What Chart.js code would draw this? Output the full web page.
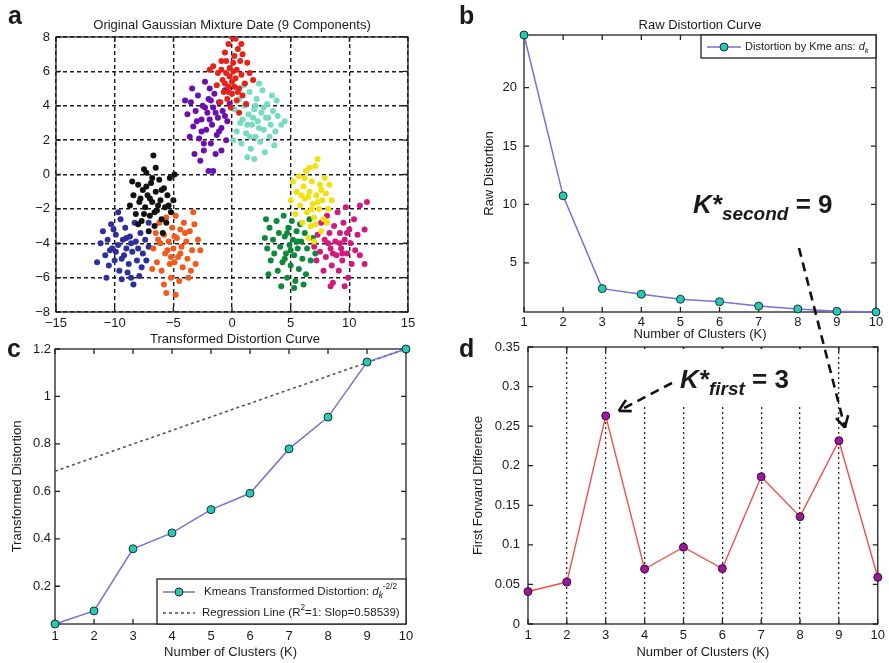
<!DOCTYPE html>
<html><head><meta charset="utf-8">
<script src="https://cdn.jsdelivr.net/npm/chart.js@4.4.0/dist/chart.umd.min.js"></script>
<style>
html,body{margin:0;padding:0;background:#fff;overflow:hidden}
body{width:889px;height:663px;position:relative;font-family:"Liberation Sans",Arial,sans-serif}
canvas{position:absolute}
#ov{position:absolute;left:0;top:0;pointer-events:none}
#ov text{font-family:"Liberation Sans",Arial,sans-serif;fill:#1a1a1a}
</style></head><body>
<canvas id="cA" width="440" height="340" style="left:0;top:0"></canvas>
<canvas id="cB" width="449" height="345" style="left:440px;top:0"></canvas>
<canvas id="cC" width="440" height="333" style="left:0;top:330px"></canvas>
<canvas id="cD" width="449" height="333" style="left:440px;top:330px"></canvas>
<svg id="ov" width="889" height="663">
  <rect x="620" y="349" width="202" height="56" fill="#fff"/>
  <g id="arrows"></g>
  <text x="8" y="24" font-size="25" font-weight="bold">a</text>
  <text x="459" y="24" font-size="25" font-weight="bold">b</text>
  <text x="7" y="357" font-size="25" font-weight="bold">c</text>
  <text x="459" y="357" font-size="25" font-weight="bold">d</text>
  <text x="232" y="29" font-size="13" text-anchor="middle">Original Gaussian Mixture Date (9 Components)</text>
  <text x="700" y="29" font-size="13" text-anchor="middle">Raw Distortion Curve</text>
  <text x="235" y="343" font-size="13" text-anchor="middle">Transformed Distortion Curve</text>
  <text x="693" y="213" font-size="26" font-weight="bold" font-style="italic">K*<tspan font-size="19" dy="7">second</tspan><tspan font-style="normal" dy="-7"> = 9</tspan></text>
  <text x="680" y="388" font-size="26" font-weight="bold" font-style="italic">K*<tspan font-size="19" dy="7">first</tspan><tspan font-style="normal" dy="-7"> = 3</tspan></text>
</svg>
<script>
// ---- panel a: points, one list per component ----
const redPts = [[-1.6,6.3],[-1.2,5.9],[-0.9,6.6],[-0.6,7.1],[-0.3,7.6],[0,8],[0.3,7.9],[0.5,7.3],[0.9,7],[1.3,6.5],[-1.3,5.2],[-0.8,5.5],[-0.5,5.9],[-0.2,6.2],[0.1,6.5],[0.4,6.1],[0.8,5.8],[1.1,5.3],[-0.7,4.8],[-0.3,5.1],[0,5.4],[0.3,5.6],[0.6,5],[0.9,4.6],[-0.4,4.4],[0,4.7],[0.4,4.3],[-0.1,3.9],[0.6,3.6],[-1,4.2],[0.2,6.9],[-0.5,6.6],[1.5,5.9],[-1.9,6.1],[0.7,6.6],[-0.2,5.7],[0.2,5.1],[-0.6,5.3],[1.2,4.1],[-0.9,6.1],[0.5,4.8],[0.1,6],[-0.3,4.8],[1.8,5.5],[0.8,7.6]];
const purplePts = [[-3.8,3.5],[-3.5,4.2],[-3.3,2.8],[-3.1,3.7],[-2.9,4.6],[-2.8,2.1],[-2.6,3.2],[-2.5,4],[-2.4,1.4],[-2.2,2.6],[-2.1,3.6],[-2,4.4],[-1.9,5],[-1.8,1.8],[-1.7,2.9],[-1.6,3.9],[-1.5,4.7],[-1.3,2.3],[-1.2,3.3],[-1.1,4.2],[-0.9,2.7],[-0.8,3.7],[-0.6,4.9],[-0.5,2],[-0.4,3.1],[-0.2,4.1],[-2.7,0.8],[-2,0.2],[-1.6,0.2],[-3.2,1.2],[-3.6,2.2],[-4,4.3],[-2.3,5.4],[-1.4,1.2],[-0.9,1.4],[-2.6,2.5],[-1.9,3.2],[-1.4,3.6],[-2.3,3.9],[-1.1,2.5],[-3,3.1],[-0.6,3.4],[-1.8,4.3],[-2.4,1.8],[-3.4,5]];
const tealPts = [[0.2,3.8],[0.4,2.5],[0.6,4.4],[0.8,1.8],[0.9,3.2],[1.1,4],[1.2,2.4],[1.4,3.5],[1.5,4.8],[1.6,1.5],[1.7,2.9],[1.9,3.8],[2,2.2],[2.1,4.4],[2.2,3.1],[2.4,1.9],[2.5,3.6],[2.6,4.9],[2.7,2.6],[2.9,3.3],[3,4.1],[3.2,2.2],[3.3,2.9],[3.5,3.7],[3.7,2.5],[3.9,3.4],[4.2,2.9],[4.5,3.1],[1.9,0.9],[1.3,1],[2.8,1.3],[3.4,4.6],[0.1,2],[1,5.2],[2.3,5.3],[3.8,4.3],[1.8,3.3],[2.3,2.7],[1.3,2.9],[2.7,3.9],[3.6,1.7],[0.7,3],[2,4],[1.5,2.2],[3.1,3.3]];
const blackPts = [[-8.7,-1.8],[-8.4,-1.2],[-8.2,-2.3],[-8,-0.6],[-7.9,-1.6],[-7.7,-2.7],[-7.6,-0.9],[-7.4,-1.9],[-7.3,0.1],[-7.2,-1.2],[-7,-2.4],[-6.9,-0.5],[-6.8,-1.6],[-6.6,-3],[-6.5,-1],[-6.4,-2.1],[-6.2,-0.3],[-6.1,-1.5],[-6,-2.6],[-5.8,-0.8],[-5.7,-1.9],[-5.5,-1.2],[-5.3,-0.2],[-5.2,-2.2],[-5,-1.5],[-4.9,0],[-6.7,1.1],[-7.5,0.3],[-6.5,0.4],[-8,-2.9],[-7.1,-3.3],[-5.9,-3.4],[-6.3,-1.8],[-7,-1.4],[-6.6,-2.2],[-7.8,-1.4],[-5.6,-2.8],[-8.5,-0.4],[-7.5,-2.3],[-6,-0.9],[-6.8,-0.2],[-5.4,-1.8],[-7.3,-0.7]];
const bluePts = [[-11.2,-4],[-11,-3.3],[-10.8,-4.7],[-10.6,-3.8],[-10.5,-5.3],[-10.3,-2.9],[-10.2,-4.3],[-10,-5],[-9.9,-3.5],[-9.7,-4.1],[-9.6,-5.6],[-9.5,-2.6],[-9.3,-3.8],[-9.2,-4.7],[-9.1,-3.1],[-9,-4.3],[-8.8,-5.2],[-8.7,-3.6],[-8.6,-6],[-8.5,-4.5],[-8.3,-2.8],[-8.2,-3.9],[-8.1,-5],[-8,-4.3],[-7.8,-3.4],[-7.7,-5.4],[-7.6,-4.6],[-7.4,-3.8],[-7.3,-5],[-7.1,-4.2],[-11.5,-5.1],[-9.7,-2.2],[-8.4,-6.4],[-10.7,-6],[-9.4,-6.1],[-7.1,-2.8],[-9.9,-4.5],[-9,-3.7],[-8.6,-4],[-9.4,-4.9],[-10.4,-4.4],[-8.9,-5.7],[-7.9,-5.9],[-10.1,-3.2]];
const orangePts = [[-6.7,-4.3],[-6.5,-3.4],[-6.4,-5.1],[-6.2,-2.8],[-6.1,-4],[-6,-5.6],[-5.8,-3.5],[-5.7,-4.6],[-5.6,-2.5],[-5.4,-3.9],[-5.3,-5.2],[-5.2,-6],[-5.1,-3.1],[-5,-4.3],[-4.9,-5.1],[-4.8,-2.4],[-4.7,-3.7],[-4.6,-4.8],[-4.5,-6.2],[-4.4,-3.2],[-4.3,-4.2],[-4.2,-5.4],[-4.1,-2.8],[-3.9,-3.9],[-3.8,-4.9],[-3.7,-6],[-3.6,-3.3],[-3.4,-4.4],[-3.2,-2.9],[-3.1,-5.2],[-2.9,-3.8],[-2.7,-4.4],[-3.3,-2.2],[-5.6,-6.9],[-4.8,-7],[-5.8,-6.4],[-6.8,-5.5],[-5.5,-4.4],[-4.9,-3.6],[-4.4,-4.6],[-5.2,-4.8],[-4,-3.4],[-6.3,-3.8],[-3.5,-5.6]];
const yellowPts = [[5,-1.5],[5.2,-0.4],[5.4,-2.3],[5.5,-1],[5.7,-0.1],[5.8,-1.8],[6,-2.8],[6.1,-0.7],[6.2,-1.4],[6.3,0.2],[6.4,-2.2],[6.6,-1],[6.7,-3],[6.8,-0.4],[6.9,-1.7],[7,-2.5],[7.1,0.5],[7.2,-1.2],[7.3,0.9],[7.4,-2],[7.5,-0.6],[7.6,-3.3],[7.7,-1.5],[7.8,-2.6],[7.9,-0.2],[8,-1.1],[8.2,-2],[8.3,-0.6],[8.5,-1.5],[6.5,-3.7],[7,-3.9],[6.2,-0.2],[6.8,-2],[7.3,-1.6],[6.5,-1.3],[7.6,-0.9],[5.9,-1.2],[7.1,-2.9],[8.1,-2.8],[6.6,0.4]];
const greenPts = [[2.8,-3.7],[3,-4.3],[3.2,-3.1],[3.3,-5],[3.5,-3.8],[3.6,-4.6],[3.8,-2.7],[3.9,-5.6],[4,-3.4],[4.1,-4.2],[4.3,-5.1],[4.4,-2.4],[4.5,-3.6],[4.6,-4.6],[4.7,-6],[4.8,-3.1],[4.9,-4.1],[5,-5.3],[5.1,-2.7],[5.2,-3.8],[5.3,-4.7],[5.4,-6.2],[5.5,-3.3],[5.6,-4.3],[5.7,-5.5],[5.8,-2.9],[5.9,-3.9],[6,-4.9],[6.2,-3.4],[6.3,-5.8],[6.4,-4.3],[6.6,-2.6],[6.7,-5],[6.9,-3.7],[7.1,-4.6],[4.2,-6.5],[5.3,-6.6],[3.1,-5.8],[5,-4.4],[4.5,-4.9],[5.6,-3.9],[4.7,-3.4],[6.1,-6.4],[2.9,-2.6]];
const magentaPts = [[7,-4.2],[7.2,-5],[7.3,-3.5],[7.5,-4.5],[7.6,-2.8],[7.8,-5.6],[7.9,-3.8],[8,-4.8],[8.1,-2.4],[8.3,-3.4],[8.4,-4.3],[8.5,-5.3],[8.6,-6.3],[8.7,-3],[8.8,-3.9],[8.9,-4.7],[9,-2.2],[9.1,-5.6],[9.2,-3.4],[9.3,-4.3],[9.4,-5],[9.5,-2.8],[9.6,-3.8],[9.8,-4.6],[9.9,-6],[10,-3.2],[10.1,-4],[10.2,-5.2],[10.4,-2.6],[10.5,-4.4],[10.7,-3.5],[10.9,-4.7],[11.3,-3.2],[11.5,-1.6],[10.9,-1.8],[9.7,-1.9],[8.4,-6.5],[9.6,-6.5],[11.3,-5.2],[9.2,-4],[8.6,-4.6],[9.8,-3.4],[8.2,-4],[9.4,-4.6]];
const clusterLists = [redPts, tealPts, purplePts, blackPts, orangePts, bluePts, yellowPts, magentaPts, greenPts];
const clusterColors = ['#e5231b','#76dcc0','#6b0fb0','#111111','#f25a1c','#2f2f9c','#f3e010','#d01a7e','#0b8a3b'];

// ---- panels b, c, d ----
const kValues = [1,2,3,4,5,6,7,8,9,10];
const rawDistortion = [24.5,10.74,2.8,2.32,1.89,1.68,1.31,1.06,0.86,0.8];
const transformedDistortion = [0.041,0.096,0.358,0.425,0.523,0.592,0.779,0.913,1.145,1.2];
const regressionK = [1,10];
const regressionVals = [0.685,1.2];
const firstDiff = [0.041,0.053,0.263,0.0695,0.097,0.07,0.186,0.1356,0.2316,0.059];

const ticksAX = [-15,-10,-5,0,5,10,15];
const ticksAY = [-8,-6,-4,-2,0,2,4,6,8];
const ticksB = [5,10,15,20];
const ticksC = [0.2,0.4,0.6,0.8,1,1.2];
const ticksD = [0,0.05,0.1,0.15,0.2,0.25,0.3,0.35];

const FONT = '"Liberation Sans", Arial, sans-serif';
const INK = '#1a1a1a';
Chart.defaults.font.family = FONT;
Chart.defaults.color = INK;

const pairs = (xs, ys) => xs.map((x,i)=>({x, y:ys[i]}));
const fmtNeg = v => v<0 ? '\u2212'+Math.abs(v) : String(v);
const fmtPlain = v => String(v);
const setTicks = list => s => { s.ticks = list.map(v=>({value:v})); };

// matlab style box with inward ticks on all four sides
const framePlugin = {
  id:'frame',
  beforeDatasetsDraw(chart){
    const {ctx, chartArea:a, scales:{x,y}} = chart;
    ctx.save();
    ctx.strokeStyle='#222'; ctx.lineWidth=1.3; ctx.setLineDash([]);
    ctx.beginPath();
    x.ticks.forEach(t=>{ const p=x.getPixelForValue(t.value);
      ctx.moveTo(p,a.bottom); ctx.lineTo(p,a.bottom-5); ctx.moveTo(p,a.top); ctx.lineTo(p,a.top+5); });
    y.ticks.forEach(t=>{ const p=y.getPixelForValue(t.value);
      ctx.moveTo(a.left,p); ctx.lineTo(a.left+5,p); ctx.moveTo(a.right,p); ctx.lineTo(a.right-5,p); });
    ctx.stroke();
    ctx.strokeRect(a.left, a.top, a.right-a.left, a.bottom-a.top);
    ctx.restore();
  }
};

// legend box drawn inside the axes, like matlab
const boxLegend = {
  id:'boxLegend',
  afterDatasetsDraw(chart, args, o){
    if(!o || !o.rows) return;
    const {ctx, chartArea:a} = chart;
    const x0 = a.right - o.width, y0 = o.at==='top' ? a.top : a.bottom - o.height;
    ctx.save();
    ctx.fillStyle='#fff'; ctx.fillRect(x0,y0,o.width,o.height);
    ctx.strokeStyle='#222'; ctx.lineWidth=1.3; ctx.strokeRect(x0,y0,o.width,o.height);
    o.rows.forEach((r,i)=>{
      const ds = chart.data.datasets[r.dataset];
      const cy = y0 + o.rowY[i];
      ctx.strokeStyle = ds.borderColor; ctx.lineWidth = ds.borderWidth; ctx.setLineDash(ds.borderDash||[]);
      ctx.beginPath(); ctx.moveTo(x0+o.lineX[0],cy); ctx.lineTo(x0+o.lineX[1],cy); ctx.stroke();
      ctx.setLineDash([]);
      if(ds.pointRadius>0){
        ctx.beginPath(); ctx.arc(x0+(o.lineX[0]+o.lineX[1])/2, cy, ds.pointRadius, 0, Math.PI*2);
        ctx.fillStyle=ds.pointBackgroundColor; ctx.fill();
        ctx.strokeStyle=ds.pointBorderColor; ctx.lineWidth=ds.pointBorderWidth; ctx.stroke();
      }
      let tx = x0 + o.textX[i];
      ctx.fillStyle=INK; ctx.textBaseline='middle';
      r.parts.forEach(p=>{
        const sz = (p.sub||p.sup) ? o.size*0.72 : o.size;
        ctx.font = (p.italic?'italic ':'') + sz + 'px ' + FONT;
        ctx.fillText(p.t, tx, cy + (p.sub?4:p.sup?-5:0));
        tx += ctx.measureText(p.t).width;
      });
    });
    ctx.restore();
  }
};

const tickFont = {size:13};
const noBorder = {display:false};
const noGrid = {display:false, drawTicks:false};

// ---- a ----
const chartA = new Chart(document.getElementById('cA'), {
  type:'scatter',
  data:{ datasets: clusterLists.map((pts,i)=>({
    data: pts.map(p=>({x:p[0], y:p[1]})),
    backgroundColor: clusterColors[i], borderWidth:0, pointRadius:3, pointHoverRadius:3
  })) },
  options:{
    responsive:false, animation:false, events:[],
    layout:{padding:{left:8,right:32,top:37,bottom:4}},
    plugins:{legend:{display:false}, tooltip:{enabled:false}},
    scales:{
      x:{type:'linear', min:-15, max:15, afterBuildTicks:setTicks(ticksAX), afterFit:s=>{s.height=24;},
         grid:{color:'#1a1a1a', lineWidth:1.4, drawTicks:false}, border:{display:false, dash:[4,3]},
         ticks:{padding:4, font:tickFont, color:INK, callback:fmtNeg, maxRotation:0}},
      y:{min:-8, max:8, afterBuildTicks:setTicks(ticksAY), afterFit:s=>{s.width=48;},
         grid:{color:'#1a1a1a', lineWidth:1.4, drawTicks:false}, border:{display:false, dash:[4,3]},
         ticks:{padding:6, font:tickFont, color:INK, callback:fmtNeg}}
    }
  },
  plugins:[framePlugin]
});

const blueLine = '#7a6ed8', tealMark = '#2cc7b3', markEdge = '#0f3434';
const kTicks = {padding:3, font:tickFont, color:INK, stepSize:1, maxRotation:0, callback:fmtPlain};
const xTitle = pb => ({display:true, text:'Number of Clusters (K)', font:{size:13}, color:INK, padding:{top:0,bottom:pb}});
const yTitle = (txt, pt) => ({display:true, text:txt, font:{size:13}, color:INK, padding:{top:pt,bottom:0}});

// ---- b ----
const chartB = new Chart(document.getElementById('cB'), {
  type:'scatter',
  data:{ datasets:[{
    data: pairs(kValues, rawDistortion), showLine:true, clip:false,
    borderColor:blueLine, borderWidth:1.5, pointRadius:4, pointBackgroundColor:tealMark,
    pointBorderColor:markEdge, pointBorderWidth:1
  }]},
  options:{
    responsive:false, animation:false, events:[],
    layout:{padding:{left:0,right:13,top:35,bottom:0}},
    plugins:{legend:{display:false}, tooltip:{enabled:false},
      boxLegend:{at:'top', width:175, height:23, size:11, rowY:[12], lineX:[6,40], textX:[44],
        rows:[{dataset:0, parts:[{t:'Distortion by Kme ans: '},{t:'d',italic:true},{t:'k',italic:true,sub:true}]}]}},
    scales:{
      x:{type:'linear', min:1, max:10, afterFit:s=>{s.height=33;}, grid:noGrid, border:noBorder,
         ticks:{...kTicks, padding:3}, title:xTitle(3)},
      y:{min:0.8, max:24.5, afterBuildTicks:setTicks(ticksB), afterFit:s=>{s.width=84;}, grid:noGrid, border:noBorder,
         ticks:{padding:7, font:tickFont, color:INK, callback:fmtPlain}, title:yTitle('Raw Distortion', 42)}
    }
  },
  plugins:[framePlugin, boxLegend]
});

// ---- c ----
const chartC = new Chart(document.getElementById('cC'), {
  type:'scatter',
  data:{ datasets:[{
    data: pairs(kValues, transformedDistortion), showLine:true, clip:false,
    borderColor:blueLine, borderWidth:1.5, pointRadius:4, pointBackgroundColor:tealMark,
    pointBorderColor:markEdge, pointBorderWidth:1
  },{
    data: pairs(regressionK, regressionVals), showLine:true, clip:false,
    borderColor:'#555', borderWidth:1.6, borderDash:[3,3], pointRadius:0
  }]},
  options:{
    responsive:false, animation:false, events:[],
    layout:{padding:{left:0,right:34,top:19,bottom:0}},
    plugins:{legend:{display:false}, tooltip:{enabled:false},
      boxLegend:{at:'bottom', width:249, height:45, size:11.5, rowY:[13,34], lineX:[6,38], textX:[47,45],
        rows:[
          {dataset:0, parts:[{t:'Kmeans Transformed Distortion: '},{t:'d',italic:true},{t:'k',italic:true,sub:true},{t:'-2/2',sup:true}]},
          {dataset:1, parts:[{t:'Regression Line (R'},{t:'2',sup:true},{t:'=1: Slop=0.58539)'}]}
        ]}},
    scales:{
      x:{type:'linear', min:1, max:10, afterFit:s=>{s.height=39;}, grid:noGrid, border:noBorder,
         ticks:{...kTicks, padding:5}, title:xTitle(3)},
      y:{min:0.041, max:1.2, afterBuildTicks:setTicks(ticksC), afterFit:s=>{s.width=55;}, grid:noGrid, border:noBorder,
         ticks:{padding:4, font:tickFont, color:INK, callback:fmtPlain}, title:yTitle('Transformed Distortion', 10)}
    }
  },
  plugins:[framePlugin, boxLegend]
});

// ---- d ----
const chartD = new Chart(document.getElementById('cD'), {
  type:'scatter',
  data:{ datasets:[{
    data: pairs(kValues, firstDiff), showLine:true, clip:false,
    borderColor:'#f0504a', borderWidth:1.4, pointRadius:4, pointBackgroundColor:'#9a1a9c',
    pointBorderColor:'#3a0a3a', pointBorderWidth:1
  }]},
  options:{
    responsive:false, animation:false, events:[],
    layout:{padding:{left:0,right:11,top:17,bottom:0}},
    plugins:{legend:{display:false}, tooltip:{enabled:false}},
    scales:{
      x:{type:'linear', min:1, max:10, afterFit:s=>{s.height=39;},
         grid:{drawTicks:false, lineWidth:1.3, color:c=>(c.tick && c.tick.value>1 && c.tick.value<10) ? '#2a2a2a' : 'rgba(0,0,0,0)'},
         border:{display:false, dash:[2,3]}, ticks:{...kTicks, padding:4}, title:xTitle(3)},
      y:{min:0, max:0.35, afterBuildTicks:setTicks(ticksD), afterFit:s=>{s.width=88;}, grid:noGrid, border:noBorder,
         ticks:{padding:8, font:tickFont, color:INK, callback:fmtPlain}, title:yTitle('First Forward Difference', 31)}
    }
  },
  plugins:[framePlugin]
});

// ---- dashed arrows, ending next to the marked points of d ----
function dashedArrow(g, x1, y1, x2, y2){
  const NS='http://www.w3.org/2000/svg';
  const line = (a,b,c,d,dash)=>{
    const l=document.createElementNS(NS,'line');
    l.setAttribute('x1',a); l.setAttribute('y1',b); l.setAttribute('x2',c); l.setAttribute('y2',d);
    l.setAttribute('stroke','#111'); l.setAttribute('stroke-width','2.6');
    if(dash) l.setAttribute('stroke-dasharray',dash);
    g.appendChild(l);
  };
  line(x1,y1,x2,y2,'9 6');
  const ang=Math.atan2(y2-y1,x2-x1), len=13;
  [0.5,-0.5].forEach(da=>line(x2,y2,x2-len*Math.cos(ang+da),y2-len*Math.sin(ang+da)));
}
const g = document.getElementById('arrows');
const dx = chartD.scales.x, dy = chartD.scales.y;
const p9 = {x:440+dx.getPixelForValue(kValues[8]), y:330+dy.getPixelForValue(firstDiff[8])};
const p3 = {x:440+dx.getPixelForValue(kValues[2]), y:330+dy.getPixelForValue(firstDiff[2])};
dashedArrow(g, 799, 248, p9.x+6, p9.y-13);
dashedArrow(g, 672, 383, p3.x+13, p3.y-5);
</script>
</body></html>
